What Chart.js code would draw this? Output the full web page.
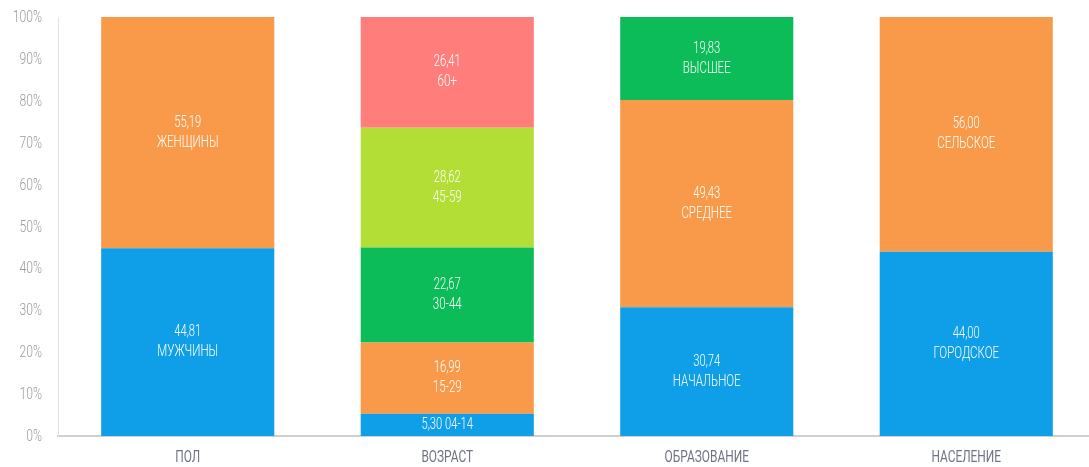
<!DOCTYPE html>
<html>
<head>
<meta charset="utf-8">
<script src="https://cdn.jsdelivr.net/npm/chart.js@4/dist/chart.umd.min.js"></script>
<style>
  html, body { margin: 0; padding: 0; background: #fff; overflow: hidden; }
  #wrap { width: 1096px; height: 467px; position: relative; }
</style>
</head>
<body>
<div id="wrap"><canvas id="c"></canvas></div>
<script>
const categories = ['ПОЛ', 'ВОЗРАСТ', 'ОБРАЗОВАНИЕ', 'НАСЕЛЕНИЕ'];
const yTicks = [0, 10, 20, 30, 40, 50, 60, 70, 80, 90, 100];

// stacked levels (bottom to top)
const level1Values = [44.81, 5.30, 30.74, 44.00];
const level1Labels = ['МУЖЧИНЫ', '04-14', 'НАЧАЛЬНОЕ', 'ГОРОДСКОЕ'];
const level2Values = [55.19, 16.99, 49.43, 56.00];
const level2Labels = ['ЖЕНЩИНЫ', '15-29', 'СРЕДНЕЕ', 'СЕЛЬСКОЕ'];
const level3Values = [null, 22.67, 19.83, null];
const level3Labels = [null, '30-44', 'ВЫСШЕЕ', null];
const level4Values = [null, 28.62, null, null];
const level4Labels = [null, '45-59', null, null];
const level5Values = [null, 26.41, null, null];
const level5Labels = [null, '60+', null, null];

const colBlue = '#0E9FE8';
const colOrange = '#F99A4A';
const colGreen = '#0BBC58';
const colLime = '#B2DE36';
const colPink = '#FF7E7C';

const FONT = "Roboto, 'Noto Sans', sans-serif";

function fmt(v) { return v.toFixed(2).replace('.', ','); }

// draw horizontally condensed text
function cText(ctx, text, x, y, size, color, align, weight, sx) {
  ctx.save();
  ctx.font = (weight || 300) + ' ' + size + 'px ' + FONT;
  ctx.fillStyle = color;
  ctx.textBaseline = 'middle';
  ctx.textAlign = align || 'center';
  ctx.translate(x, y);
  ctx.scale(sx, 1);
  ctx.fillText(text, 0, 0);
  ctx.restore();
}

const textPlugin = {
  id: 'condensedText',
  afterDatasetsDraw(chart) {
    const ctx = chart.ctx;
    // segment labels
    chart.data.datasets.forEach((ds, di) => {
      const meta = chart.getDatasetMeta(di);
      meta.data.forEach((el, i) => {
        const v = ds.data[i];
        if (v === null || v === undefined) return;
        const p = el.getProps(['x', 'y', 'base'], true);
        const cy = (p.y + p.base) / 2;
        const lbl = ds.segLabels[i];
        if (Math.abs(p.base - p.y) < 35) {
          cText(ctx, fmt(v) + ' ' + lbl, p.x, cy, 16, '#fff', 'center', 300, 0.7);
        } else {
          cText(ctx, fmt(v), p.x, cy - 10, 16, '#fff', 'center', 300, 0.7);
          cText(ctx, lbl, p.x, cy + 10, 16, '#fff', 'center', 300, 0.72);
        }
      });
    });
    // y tick labels
    const ys = chart.scales.y;
    yTicks.forEach(t => {
      cText(ctx, t + '%', ys.right - 16, ys.getPixelForValue(t) + 1, 16, '#9a9a9a', 'right', 300, 0.76);
    });
    // x tick labels
    const xs = chart.scales.x;
    categories.forEach((c, i) => {
      cText(ctx, c, xs.getPixelForValue(i), xs.top + 22, 17, '#707480', 'center', 400, 0.7);
    });
  }
};

const mk = (data, labels, color) => ({
  data: data,
  segLabels: labels,
  backgroundColor: color,
  borderWidth: 0,
  categoryPercentage: 1.0,
  barPercentage: 0.667
});

new Chart(document.getElementById('c'), {
  type: 'bar',
  data: {
    labels: categories,
    datasets: [
      mk(level1Values, level1Labels, colBlue),
      mk(level2Values, level2Labels, colOrange),
      mk(level3Values, level3Labels, colGreen),
      mk(level4Values, level4Labels, colLime),
      mk(level5Values, level5Labels, colPink)
    ]
  },
  options: {
    responsive: true,
    maintainAspectRatio: false,
    animation: false,
    layout: { padding: { top: 17, left: 0, right: 0, bottom: 0 } },
    plugins: { legend: { display: false }, tooltip: { enabled: false } },
    scales: {
      x: {
        stacked: true,
        grid: { display: false },
        border: { display: true, color: '#cfcfcf', width: 2 },
        ticks: { display: false },
        afterFit(scale) { scale.height = 31; }
      },
      y: {
        stacked: true,
        min: 0, max: 100,
        afterBuildTicks(scale) { scale.ticks = yTicks.map(v => ({ value: v })); },
        afterFit(scale) { scale.width = 58; },
        grid: { display: false },
        border: { display: true, color: '#e2e2e2', width: 1 },
        ticks: { display: false }
      }
    }
  },
  plugins: [textPlugin]
});
</script>
</body>
</html>
